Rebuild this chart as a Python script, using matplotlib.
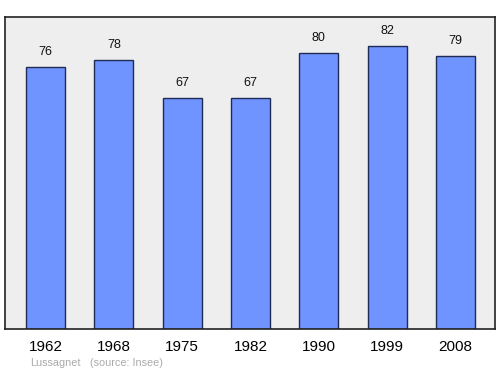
import numpy as np
import matplotlib.pyplot as plt

plt.rcParams['font.family'] = ['Liberation Sans', 'DejaVu Sans']

years = ['1962', '1968', '1975', '1982', '1990', '1999', '2008']
population = [76, 78, 67, 67, 80, 82, 79]

fig = plt.figure(figsize=(5, 3.74), dpi=100)
ax = fig.add_axes([0.01, 0.1203, 0.98, 0.8342])
ax.set_facecolor('#eeeeee')

x = np.arange(len(years))
ax.bar(x, population, width=0.57, color='#7094ff', edgecolor='#1f2b55', linewidth=1.0)

for xi, v in zip(x, population):
    ax.text(xi, v + 2.6, str(v), ha='center', va='bottom', fontsize=9, color='#111111')

ax.set_xlim(-0.593, 6.578)
ax.set_ylim(0, 90.4)
ax.set_yticks([])
ax.set_xticks(x)
ax.set_xticklabels(years, fontsize=11)
ax.tick_params(axis='x', length=0, pad=8)
for s in ax.spines.values():
    s.set_color('#222222')
    s.set_linewidth(1.2)

fig.text(0.06, 0.022, 'Lussagnet', fontsize=7.8, color='#aaaaaa')
fig.text(0.18, 0.022, '(source: Insee)', fontsize=7.8, color='#aaaaaa')

fig.savefig('out.png', dpi=100)
